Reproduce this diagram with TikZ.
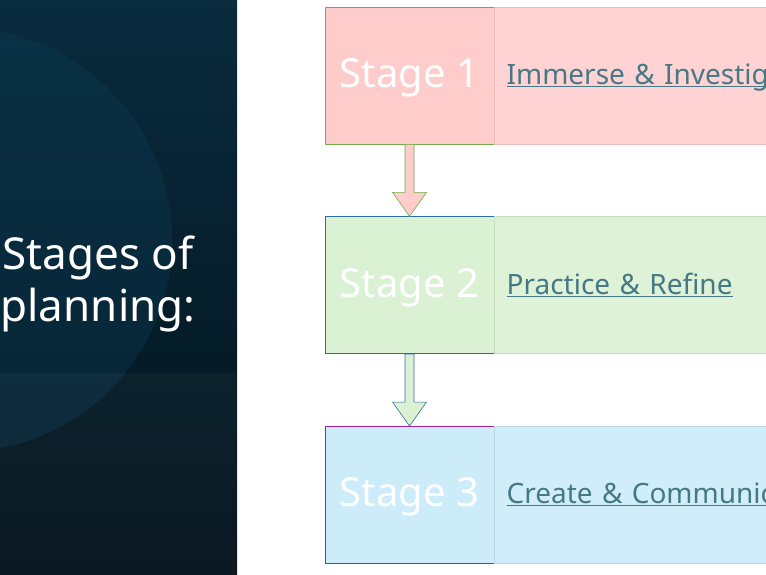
\documentclass[tikz,border=0pt]{standalone}
\usepackage{xcolor}
\usepackage{fontspec}
\setmainfont{Noto Sans}
\usetikzlibrary{positioning,calc}
\definecolor{panelblue}{HTML}{0C3A52}
\definecolor{paneldark}{HTML}{04121B}
\definecolor{linkteal}{HTML}{467886}
\definecolor{rosefill}{HTML}{FFCCCC}
\definecolor{roselight}{HTML}{FFD3D3}
\definecolor{roseedge}{HTML}{70AD47}
\definecolor{mintfill}{HTML}{DAF1D3}
\definecolor{mintlight}{HTML}{DDF2D6}
\definecolor{mintedge}{HTML}{2E6DA4}
\definecolor{skyfill}{HTML}{CCECFA}
\definecolor{skylight}{HTML}{D0EEFA}
\definecolor{skyedge}{HTML}{A020A0}
\newcommand{\ulink}[1]{\setbox0\hbox{#1}\rlap{\rule[-2.5pt]{\wd0}{1.1pt}}\box0}

\begin{document}
\begin{tikzpicture}[
  x=1pt,y=-1pt,
  stagebox/.style={minimum width=169pt,minimum height=137pt,inner sep=0pt,
    text height=30pt,text depth=6pt,
    text=white,font=\fontsize{40}{44}\selectfont,line width=.7pt},
  linkbox/.style={minimum width=300pt,minimum height=137pt,inner sep=0pt,
    text width=276pt,text height=22pt,text depth=4pt,align=left,
    text=linkteal,font=\fontsize{28}{32}\selectfont,line width=.5pt},
  flowarrow/.style={line width=.6pt,line join=miter}
]
  \useasboundingbox (0,0) rectangle (766,575);
  \clip (0,0) rectangle (766,575);
  % dark side panel
  \shade[left color=panelblue,right color=paneldark,shading angle=0]
    (0,0) rectangle (237,575);
  \fill[paneldark,opacity=.35] (0,0) rectangle (237,575);
  \fill[panelblue,opacity=.4] (-40,240) circle (212);
  \fill[white,opacity=.03] (0,373) rectangle (237,575);
  \node[text=white,font=\fontsize{44}{52}\selectfont,align=center]
    (heading) at (98,284) {Stages of\\planning:};

  \node[stagebox,fill=rosefill,draw=roseedge] (stage1) at (409.5,75.5) {Stage 1};
  \node[stagebox,fill=mintfill,draw=mintedge,below=72pt of stage1] (stage2) {Stage 2};
  \node[stagebox,fill=skyfill,draw=skyedge,below=72pt of stage2] (stage3) {Stage 3};

  \node[linkbox,fill=roselight,draw=rosefill!80!gray,right=0pt of stage1] (link1)
    {\ulink{Immerse \& Investigate}};
  \node[linkbox,fill=mintlight,draw=mintfill!80!gray,right=0pt of stage2] (link2)
    {\ulink{Practice \& Refine}};
  \node[linkbox,fill=skylight,draw=skyfill!80!gray,right=0pt of stage3] (link3)
    {\ulink{Create \& Communicate}};

  % block arrows between stages
  \foreach \up/\down/\col/\edge in {stage1/stage2/rosefill/roseedge,
                                    stage2/stage3/mintfill/mintedge}{
    \draw[flowarrow,fill=\col,draw=\edge]
      ($(\up.south)+(-4.5,0)$) -- ($(\up.south)+(4.5,0)$)
      -- ($(\down.north)+(4.5,-24)$) -- ($(\down.north)+(17,-24)$)
      -- (\down.north) -- ($(\down.north)+(-17,-24)$)
      -- ($(\down.north)+(-4.5,-24)$) -- cycle;
  }
\end{tikzpicture}
\end{document}
